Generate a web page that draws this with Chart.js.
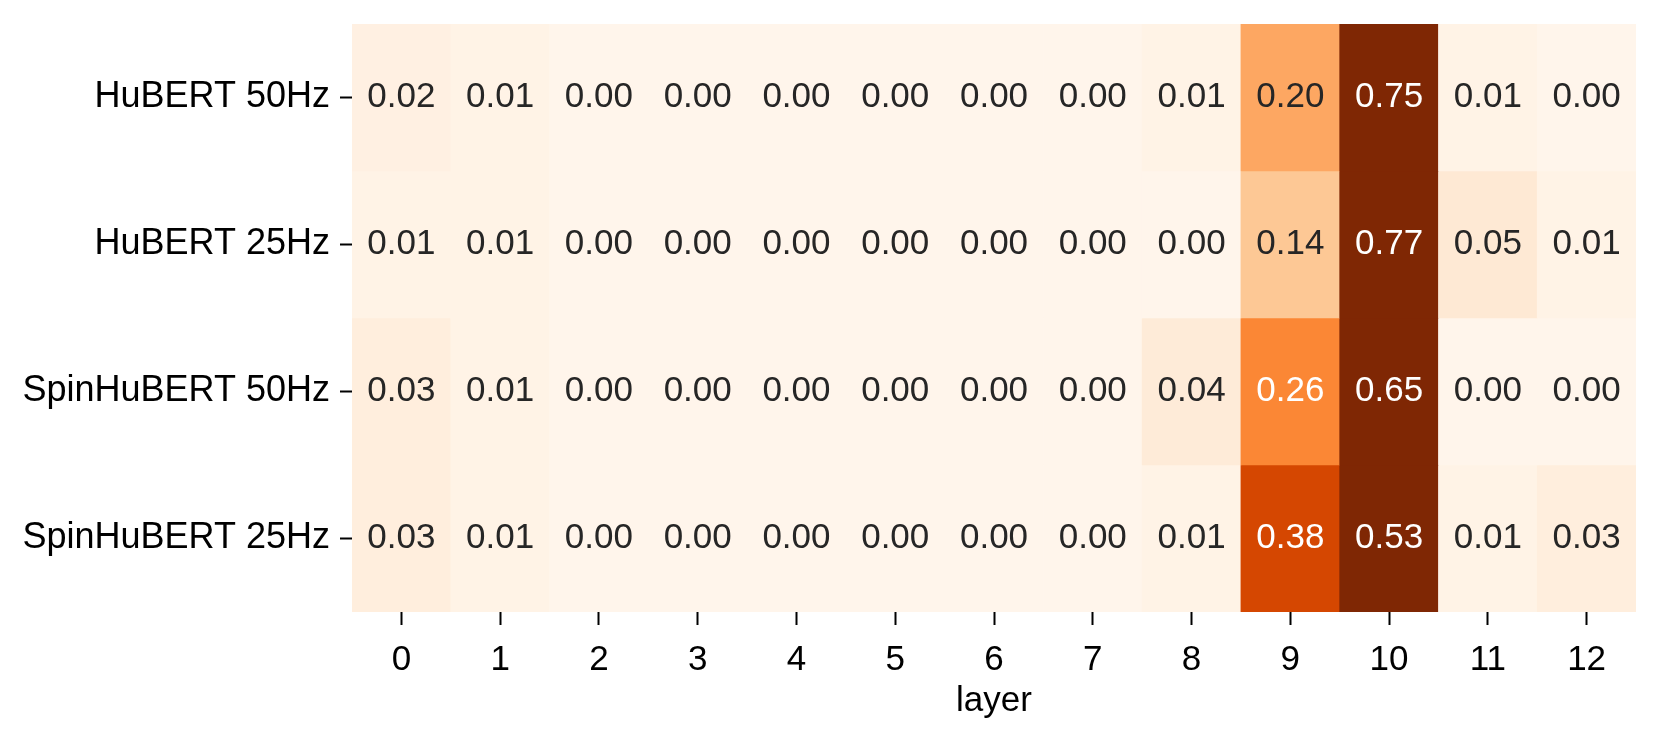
<!DOCTYPE html>
<html>
<head>
<meta charset="utf-8">
<script src="https://cdn.jsdelivr.net/npm/chart.js@4.4.1/dist/chart.umd.min.js"></script>
<style>
  body { margin: 0; background: #fff; }
  #wrap { width: 1660px; height: 743px; }
</style>
</head>
<body>
<div id="wrap"><canvas id="heat"></canvas></div>
<script>
// heatmap data (rows top to bottom)
const layers = ['0', '1', '2', '3', '4', '5', '6', '7', '8', '9', '10', '11', '12'];
const models = ['HuBERT 50Hz', 'HuBERT 25Hz', 'SpinHuBERT 50Hz', 'SpinHuBERT 25Hz'];
const hubert50 = [0.02, 0.01, 0.00, 0.00, 0.00, 0.00, 0.00, 0.00, 0.01, 0.20, 0.75, 0.01, 0.00];
const hubert25 = [0.01, 0.01, 0.00, 0.00, 0.00, 0.00, 0.00, 0.00, 0.00, 0.14, 0.77, 0.05, 0.01];
const spin50 = [0.03, 0.01, 0.00, 0.00, 0.00, 0.00, 0.00, 0.00, 0.04, 0.26, 0.65, 0.00, 0.00];
const spin25 = [0.03, 0.01, 0.00, 0.00, 0.00, 0.00, 0.00, 0.00, 0.01, 0.38, 0.53, 0.01, 0.03];
const rows = [hubert50, hubert25, spin50, spin25];

const vmin = 0, vmax = 0.5;
const FONT = "'Liberation Sans', Arial, Helvetica, sans-serif";

// matplotlib "Oranges"
const oranges = ['#fff5eb', '#fee6ce', '#fdd0a2', '#fdae6b', '#fd8d3c', '#f16913', '#d94801', '#a63603', '#7f2704'];

function hexToRgb(h) {
  return [parseInt(h.slice(1, 3), 16), parseInt(h.slice(3, 5), 16), parseInt(h.slice(5, 7), 16)];
}

function cmap(v) {
  let t = (v - vmin) / (vmax - vmin);
  t = Math.max(0, Math.min(1, t));
  const pos = t * (oranges.length - 1);
  const i = Math.min(Math.floor(pos), oranges.length - 2);
  const f = pos - i;
  const a = hexToRgb(oranges[i]), b = hexToRgb(oranges[i + 1]);
  return a.map((c, k) => Math.round(c + (b[k] - c) * f));
}

function rgbStr(c) { return 'rgb(' + c.join(',') + ')'; }

function luminance(c) {
  const lin = c.map(x => {
    x = x / 255;
    return x <= 0.03928 ? x / 12.92 : Math.pow((x + 0.055) / 1.055, 2.4);
  });
  return 0.2126 * lin[0] + 0.7152 * lin[1] + 0.0722 * lin[2];
}

const datasets = rows.map((vals, r) => ({
  label: models[r],
  data: vals.map(() => [r, r + 1]),
  values: vals,
  backgroundColor: vals.map(v => rgbStr(cmap(v))),
  borderWidth: 0,
  barPercentage: 1,
  categoryPercentage: 1,
  grouped: false
}));

const cellText = {
  id: 'cellText',
  afterDatasetsDraw(chart) {
    const ctx = chart.ctx;
    ctx.save();
    ctx.font = '35px ' + FONT;
    ctx.textAlign = 'center';
    ctx.textBaseline = 'middle';
    chart.data.datasets.forEach((ds, i) => {
      const meta = chart.getDatasetMeta(i);
      meta.data.forEach((bar, j) => {
        const v = ds.values[j];
        const p = bar.getCenterPoint();
        ctx.fillStyle = luminance(cmap(v)) > 0.408 ? '#262626' : '#ffffff';
        ctx.fillText(v.toFixed(2), p.x, p.y);
      });
    });
    ctx.restore();
  }
};

new Chart(document.getElementById('heat'), {
  type: 'bar',
  data: { labels: layers, datasets: datasets },
  options: {
    responsive: true,
    maintainAspectRatio: false,
    animation: false,
    layout: { padding: { top: 24, right: 24, bottom: 21, left: 0 } },
    plugins: { legend: { display: false }, tooltip: { enabled: false } },
    scales: {
      x: {
        type: 'category',
        offset: true,
        border: { display: false },
        grid: { offset: false, drawOnChartArea: false, drawTicks: true, tickLength: 13, tickWidth: 2, tickColor: '#000' },
        ticks: { color: '#000', font: { family: FONT, size: 35 }, padding: 14, maxRotation: 0 },
        title: { display: true, text: 'layer', color: '#000', font: { family: FONT, size: 35 }, padding: 0 },
        afterFit: s => { s.height = 110; }
      },
      y: {
        type: 'linear',
        reverse: true,
        min: 0,
        max: 4,
        border: { display: false },
        grid: { drawOnChartArea: false, drawTicks: true, tickLength: 12, tickWidth: 2, tickColor: '#000' },
        afterBuildTicks: axis => { axis.ticks = models.map((m, i) => ({ value: i + 0.5 })); },
        ticks: {
          color: '#000',
          font: { family: FONT, size: 36 },
          padding: 10,
          callback: v => models[Math.floor(v)]
        },
        afterFit: s => { s.width = 352; s.paddingTop = 0; s.paddingBottom = 0; }
      }
    }
  },
  plugins: [cellText]
});
</script>
</body>
</html>
